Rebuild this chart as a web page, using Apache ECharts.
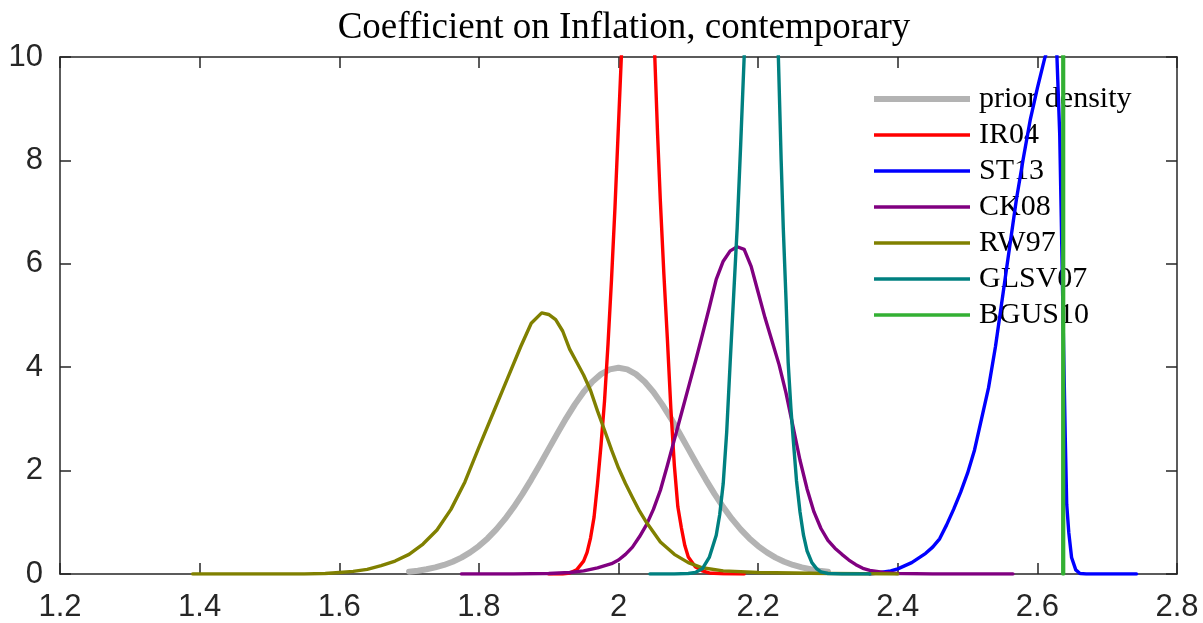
<!DOCTYPE html>
<html>
<head>
<meta charset="utf-8">
<script src="https://cdn.jsdelivr.net/npm/echarts@6/dist/echarts.min.js"></script>
<style>
  html, body { margin: 0; padding: 0; background: #ffffff; }
  #chart { width: 1203px; height: 623px; }
</style>
</head>
<body>
<div id="chart"></div>
<script>
// Posterior densities of the coefficient on inflation, with the prior density.
const xTicks = [1.2, 1.4, 1.6, 1.8, 2.0, 2.2, 2.4, 2.6, 2.8];
const yTicks = [0, 2, 4, 6, 8, 10];

const seriesNames = ['prior density', 'IR04', 'ST13', 'CK08', 'RW97', 'GLSV07', 'BGUS10'];

const priorX = [1.7000, 1.7125, 1.7250, 1.7375, 1.7500, 1.7625, 1.7750, 1.7875, 1.8000, 1.8125, 1.8250,
                1.8375, 1.8500, 1.8625, 1.8750, 1.8875, 1.9000, 1.9125, 1.9250, 1.9375, 1.9500, 1.9625,
                1.9750, 1.9875, 2.0000, 2.0125, 2.0250, 2.0375, 2.0500, 2.0625, 2.0750, 2.0875, 2.1000,
                2.1125, 2.1250, 2.1375, 2.1500, 2.1625, 2.1750, 2.1875, 2.2000, 2.2125, 2.2250, 2.2375,
                2.2500, 2.2625, 2.2750, 2.2875, 2.3000];
const priorY = [0.044, 0.064, 0.091, 0.127, 0.175, 0.238, 0.317, 0.417, 0.540, 0.688, 0.863,
                1.065, 1.295, 1.550, 1.826, 2.119, 2.420, 2.720, 3.011, 3.281, 3.521, 3.718,
                3.866, 3.958, 3.989, 3.958, 3.866, 3.718, 3.521, 3.281, 3.011, 2.720, 2.420,
                2.119, 1.826, 1.550, 1.295, 1.065, 0.863, 0.688, 0.540, 0.417, 0.317, 0.238,
                0.175, 0.127, 0.091, 0.064, 0.044];

const ir04X = [1.900, 1.920, 1.930, 1.940, 1.950, 1.955, 1.960, 1.965, 1.970, 1.975, 1.980, 1.985, 1.990, 1.995,
               2.000, 2.005, 2.015, 2.028, 2.040, 2.048, 2.052, 2.056, 2.060, 2.065, 2.070, 2.075, 2.080, 2.085,
               2.090, 2.095, 2.100, 2.110, 2.120, 2.130, 2.150, 2.180];
const ir04Y = [0, 0, 0.02, 0.08, 0.25, 0.42, 0.70, 1.10, 1.75, 2.50, 3.35, 4.45, 5.70, 7.10,
               8.70, 10.3, 13.2, 14.8, 13.5, 11.3, 10.0, 8.5, 7.2, 5.8, 4.55, 3.20, 2.10, 1.30,
               0.90, 0.55, 0.33, 0.14, 0.06, 0.02, 0.005, 0];

const st13X = [2.360, 2.375, 2.390, 2.400, 2.420, 2.440, 2.450, 2.460, 2.470, 2.480, 2.490, 2.500, 2.510,
               2.520, 2.530, 2.540, 2.550, 2.560, 2.570, 2.580, 2.590, 2.600, 2.610, 2.620, 2.627, 2.632,
               2.635, 2.637, 2.640, 2.642, 2.645, 2.649, 2.655, 2.661, 2.670, 2.742];
const st13Y = [0, 0.03, 0.06, 0.10, 0.22, 0.40, 0.52, 0.68, 0.95, 1.25, 1.58, 1.95, 2.40,
               3.00, 3.60, 4.40, 5.35, 6.30, 7.25, 8.05, 8.80, 9.40, 9.95, 10.4, 10.4, 8.5,
               6.3, 4.80, 2.60, 1.35, 0.80, 0.32, 0.08, 0.01, 0, 0];

const ck08X = [1.775, 1.850, 1.900, 1.930, 1.950, 1.970, 1.990, 2.000, 2.010, 2.020, 2.030, 2.040, 2.050,
               2.060, 2.070, 2.080, 2.090, 2.100, 2.110, 2.120, 2.130, 2.140, 2.150, 2.160, 2.170, 2.180,
               2.190, 2.200, 2.210, 2.220, 2.230, 2.240, 2.250, 2.260, 2.270, 2.280, 2.290, 2.300, 2.310,
               2.320, 2.330, 2.340, 2.350, 2.360, 2.380, 2.400, 2.450, 2.565];
const ck08Y = [0, 0, 0.01, 0.03, 0.06, 0.12, 0.20, 0.27, 0.38, 0.52, 0.72, 0.95, 1.25,
               1.62, 2.10, 2.60, 3.10, 3.60, 4.10, 4.62, 5.15, 5.70, 6.05, 6.25, 6.33, 6.28,
               5.95, 5.45, 4.95, 4.50, 4.05, 3.50, 2.85, 2.20, 1.65, 1.20, 0.88, 0.65, 0.50,
               0.38, 0.27, 0.18, 0.11, 0.07, 0.03, 0.01, 0, 0];

const rw97X = [1.390, 1.450, 1.500, 1.550, 1.580, 1.600, 1.620, 1.640, 1.660, 1.680, 1.700, 1.720, 1.740,
               1.760, 1.780, 1.800, 1.820, 1.840, 1.860, 1.875, 1.890, 1.900, 1.910, 1.920, 1.930, 1.940,
               1.950, 1.960, 1.970, 1.980, 1.990, 2.000, 2.010, 2.020, 2.030, 2.040, 2.060, 2.080, 2.100,
               2.120, 2.150, 2.200, 2.250, 2.300, 2.350, 2.400];
const rw97Y = [0, 0, 0, 0, 0.01, 0.03, 0.05, 0.09, 0.16, 0.25, 0.38, 0.58, 0.85,
               1.25, 1.78, 2.45, 3.10, 3.75, 4.40, 4.85, 5.05, 5.02, 4.92, 4.70, 4.35, 4.10,
               3.85, 3.55, 3.15, 2.78, 2.40, 2.05, 1.75, 1.48, 1.22, 1.00, 0.62, 0.38, 0.22,
               0.12, 0.06, 0.03, 0.02, 0.01, 0.005, 0];

const glsv07X = [2.045, 2.080, 2.100, 2.110, 2.120, 2.130, 2.140, 2.145, 2.150, 2.155, 2.160, 2.165, 2.170,
                 2.175, 2.180, 2.190, 2.205, 2.220, 2.229, 2.233, 2.236, 2.240, 2.243, 2.247, 2.250, 2.255,
                 2.260, 2.265, 2.270, 2.277, 2.284, 2.290, 2.300, 2.320, 2.360];
const glsv07Y = [0, 0, 0.01, 0.03, 0.10, 0.32, 0.75, 1.15, 1.75, 2.75, 4.10, 5.40, 6.70,
                 8.30, 10.0, 13.0, 14.5, 13.0, 10.0, 8.0, 6.7, 5.30, 4.10, 3.20, 2.65, 1.80,
                 1.20, 0.75, 0.45, 0.22, 0.10, 0.04, 0.01, 0, 0];

const bgus10X = [2.6365, 2.6370, 2.6375];
const bgus10Y = [0, 60, 0];

const colors = ['#b3b3b3', '#ff0000', '#0000ff', '#800080', '#808000', '#008080', '#33b033'];
const widths = [6, 3.4, 3.4, 3.4, 3.4, 3.4, 3.6];

function pairs(xs, ys) {
  return xs.map((x, i) => [x, ys[i]]);
}

const dataSets = [
  pairs(priorX, priorY),
  pairs(ir04X, ir04Y),
  pairs(st13X, st13Y),
  pairs(ck08X, ck08Y),
  pairs(rw97X, rw97Y),
  pairs(glsv07X, glsv07Y),
  pairs(bgus10X, bgus10Y)
];

const axisColor = '#262626';
const tickFont = { fontFamily: 'Liberation Sans', fontSize: 31, color: '#262626' };
const legendText = { fontFamily: 'Liberation Serif', fontSize: 30, color: '#000000', lineHeight: 30, padding: [0, 0, 0, 4] };

const chart = echarts.init(document.getElementById('chart'), null, { renderer: 'canvas' });

const xBase = {
  type: 'value', min: 1.2, max: 2.8, interval: 0.2,
  axisLine: { show: true, onZero: false, lineStyle: { color: axisColor, width: 1.5 } },
  axisTick: { show: true, inside: true, length: 11, lineStyle: { color: axisColor, width: 1.5 } },
  splitLine: { show: false }
};
const yBase = {
  type: 'value', min: 0, max: 10, interval: 2,
  axisLine: { show: true, onZero: false, lineStyle: { color: axisColor, width: 1.5 } },
  axisTick: { show: true, inside: true, length: 11, lineStyle: { color: axisColor, width: 1.5 } },
  splitLine: { show: false }
};

chart.setOption({
  backgroundColor: '#ffffff',
  animation: false,
  title: {
    text: 'Coefficient on Inflation, contemporary',
    left: 619, top: 5, textAlign: 'center',
    textStyle: { fontFamily: 'Liberation Serif', fontWeight: 'normal', fontSize: 37, color: '#000000' }
  },
  legend: [
    {
      // thick key for the prior
      data: [seriesNames[0]],
      orient: 'vertical', left: 869, top: 79,
      icon: 'rect', itemWidth: 96, itemHeight: 6, itemGap: 6,
      textStyle: legendText
    },
    {
      data: seriesNames.slice(1),
      orient: 'vertical', left: 869, top: 115,
      icon: 'rect', itemWidth: 96, itemHeight: 3.4, itemGap: 6,
      textStyle: legendText
    }
  ],
  grid: { left: 60, right: 26, top: 57, bottom: 48, containLabel: false },
  xAxis: [
    Object.assign({}, xBase, {
      position: 'bottom',
      axisLabel: Object.assign({ margin: 18 }, tickFont)
    }),
    Object.assign({}, xBase, { position: 'top', axisLabel: { show: false } })
  ],
  yAxis: [
    Object.assign({}, yBase, {
      position: 'left',
      axisLabel: Object.assign({ margin: 17 }, tickFont)
    }),
    Object.assign({}, yBase, { position: 'right', axisLabel: { show: false } })
  ],
  series: seriesNames.map((name, i) => ({
    name: name,
    type: 'line',
    xAxisIndex: 0,
    yAxisIndex: 0,
    data: dataSets[i],
    symbol: 'none',
    smooth: false,
    clip: true,
    color: colors[i],
    lineStyle: { color: colors[i], width: widths[i], join: 'round', cap: 'round' },
    z: 2 + i
  }))
});
</script>
</body>
</html>
